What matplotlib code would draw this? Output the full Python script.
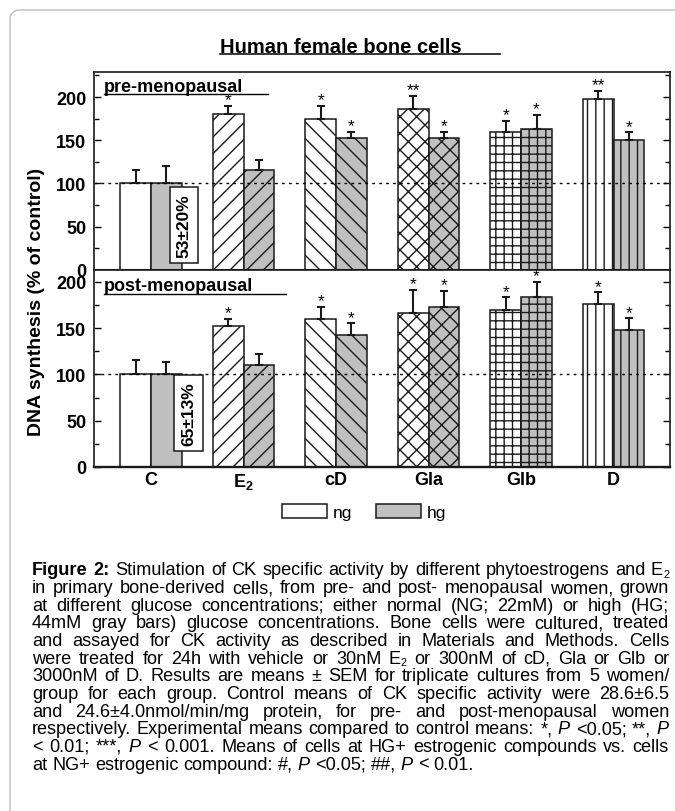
import re
import numpy as np
import matplotlib
matplotlib.use('Agg')
import matplotlib.pyplot as plt
from matplotlib.patches import Rectangle, Patch, PathPatch
from matplotlib.lines import Line2D
from matplotlib.path import Path

plt.rcParams['font.family'] = ['Liberation Sans', 'DejaVu Sans']
plt.rcParams['mathtext.fontset'] = 'custom'
plt.rcParams['mathtext.rm'] = 'Liberation Sans'
plt.rcParams['mathtext.bf'] = 'Liberation Sans:bold'
plt.rcParams['mathtext.it'] = 'Liberation Sans:italic'
plt.rcParams['hatch.linewidth'] = 1.0

# ---------------- data ----------------
categories = ['C', 'E2', 'cD', 'Gla', 'Glb', 'D']
tick_labels = ['C', r'$\mathbf{E}_{\mathbf{2}}$', 'cD', 'Gla', 'Glb', 'D']
hatches = ['', '//', '\\\\', 'xx', '++', '||']

pre_ng = [100, 180, 174.5, 186, 160, 198]
pre_ng_err = [15, 10, 15.5, 15, 12.5, 9]
pre_hg = [100, 115, 153, 153, 163, 150.5]
pre_hg_err = [20, 12, 6.5, 7, 16.5, 8.5]
pre_ng_sig = ['', '*', '*', '**', '*', '**']
pre_hg_sig = ['', '', '*', '*', '*', '*']

post_ng = [100, 152, 160, 166, 170, 176]
post_ng_err = [15, 8, 12.5, 25, 13, 12.5]
post_hg = [100, 110, 143, 173, 184, 148]
post_hg_err = [13, 12, 12, 17, 16, 12.5]
post_ng_sig = ['', '*', '*', '*', '*', '*']
post_hg_sig = ['', '', '*', '*', '*', '*']

note_pre = '53±20%'
note_post = '65±13%'
series_labels = ['ng', 'hg']
title = 'Human female bone cells'
ylabel = 'DNA synthesis (% of control)'

caption = [
    "{b:Figure} {b:2:} Stimulation of CK specific activity by different phytoestrogens and E{s:2}",
    "in primary bone-derived cells, from pre- and post- menopausal women, grown",
    "at different glucose concentrations; either normal (NG; 22mM) or high (HG;",
    "44mM gray bars) glucose concentrations. Bone cells were cultured, treated",
    "and assayed for CK activity as described in Materials and Methods. Cells",
    "were treated for 24h with vehicle or 30nM E{s:2} or 300nM of cD, Gla or Glb or",
    "3000nM of D. Results are means ± SEM for triplicate cultures from 5 women/",
    "group for each group. Control means of CK specific activity were 28.6±6.5",
    "and 24.6±4.0nmol/min/mg protein, for pre- and post-menopausal women",
    "respectively. Experimental means compared to control means: *, {i:P} <0.05; **, {i:P}",
    "< 0.01; ***, {i:P} < 0.001.  Means of cells at HG+ estrogenic compounds vs. cells",
    "at NG+ estrogenic compound: #, {i:P} <0.05; ##, {i:P} < 0.01.",
]

# ---------------- layout ----------------
W, H = 675, 812
fig = plt.figure(figsize=(W / 100, H / 100), dpi=100)


def fx(px):
    return px / W


def fy(py):
    return 1 - py / H


EDGE = '#1a1a1a'
GRAY = '#c0c0c0'

ax1 = fig.add_axes([fx(94), fy(270.7), (670 - 94) / W, (270.7 - 73) / H])
ax2 = fig.add_axes([fx(94), fy(468), (670 - 94) / W, (468 - 270.7) / H])


def panel(ax, ng, ng_err, hg, hg_err, ng_sig, hg_sig, ymax, label, ly, uly, ul_end,
          note, nbox):
    x = np.arange(1, len(categories) + 1)
    w = 0.332
    n = len(categories)
    b1 = ax.bar(x - w / 2, ng, w, color='white', edgecolor=EDGE, linewidth=1.1, zorder=2)
    b2 = ax.bar(x + w / 2, hg, w, color=GRAY, edgecolor=EDGE, linewidth=1.1, zorder=2)
    for b, h in zip(b1, hatches):
        b.set_hatch(h)
    for b, h in zip(b2, hatches):
        b.set_hatch(h)
    ax.errorbar(x - w / 2, ng, yerr=[np.zeros(n), ng_err], fmt='none', ecolor=EDGE,
                elinewidth=1.5, capsize=3, capthick=1.5, zorder=3)
    ax.errorbar(x + w / 2, hg, yerr=[np.zeros(n), hg_err], fmt='none', ecolor=EDGE,
                elinewidth=1.5, capsize=3, capthick=1.5, zorder=3)
    for xs, vals, errs, sigs in ((x - w / 2, ng, ng_err, ng_sig), (x + w / 2, hg, hg_err, hg_sig)):
        for xi, v, e, s in zip(xs, vals, errs, sigs):
            if s:
                ax.annotate(s, (xi, v + e), xytext=(0, 1.2), textcoords='offset points',
                            ha='center', va='baseline', fontsize=12.5)
    ax.axhline(100, color='black', lw=1.0, ls=(0, (2, 3)), zorder=4)
    ax.set_xlim(0.384, 6.608)
    ax.set_ylim(0, ymax)
    ax.set_yticks([0, 50, 100, 150, 200])
    ax.set_yticklabels(['0', '50', '100', '150', '200'], fontweight='bold', fontsize=13)
    ax.set_yticks(np.arange(25, ymax, 50), minor=True)
    ax.tick_params(axis='y', which='both', direction='in', left=True, right=True,
                   width=1.0, pad=5.5)
    ax.tick_params(axis='y', which='major', length=5)
    ax.tick_params(axis='y', which='minor', length=3.5)
    ax.tick_params(axis='x', length=0)
    for sp in ax.spines.values():
        sp.set_linewidth(1.2)
        sp.set_color(EDGE)
    ax.text(0.0174, ly, label, transform=ax.transAxes, fontsize=13, fontweight='bold',
            ha='left', va='center')
    ax.add_line(Line2D([0.0174, ul_end], [uly, uly], transform=ax.transAxes,
                       color='black', lw=1.0))
    x0, x1, y0, y1 = nbox
    ax.add_patch(Rectangle((x0, y0), x1 - x0, y1 - y0, facecolor='white',
                           edgecolor=EDGE, lw=1.1, zorder=5))
    ax.text((x0 + x1) / 2, (y0 + y1) / 2, note, rotation=90, ha='center', va='center',
            fontsize=12.5, fontweight='bold', zorder=6)


panel(ax1, pre_ng, pre_ng_err, pre_hg, pre_hg_err, pre_ng_sig, pre_hg_sig, 229,
      'pre-menopausal', 0.929, 0.889, 0.3016, note_pre, (1.205, 1.511, 7.8, 96))
panel(ax2, post_ng, post_ng_err, post_hg, post_hg_err, post_ng_sig, post_hg_sig, 213,
      'post-menopausal', 0.919, 0.879, 0.333, note_post, (1.252, 1.562, 17, 99.3))

ax1.set_xticks(np.arange(1, 7))
ax1.set_xticklabels([])
ax2.set_xticks(np.arange(1, 7))
ax2.set_xticklabels(tick_labels, fontweight='bold', fontsize=13)
ax2.tick_params(axis='x', pad=3)
ax2.spines['bottom'].set_linewidth(1.7)
ax1.spines['bottom'].set_linewidth(1.5)

# y label
fig.text(fx(37), fy(302), ylabel, rotation=90, ha='center', va='center',
         fontsize=14, fontweight='bold')

# title
fig.text(fx(220), fy(53), title, ha='left', va='baseline', fontsize=14.5, fontweight='bold')
fig.add_artist(Line2D([fx(220), fx(500)], [fy(55), fy(55)], transform=fig.transFigure,
                      color='black', lw=1.1))

# legend
handles = [Patch(facecolor='white', edgecolor=EDGE, lw=1.1),
           Patch(facecolor=GRAY, edgecolor=EDGE, lw=1.1)]
fig.legend(handles, series_labels, ncol=2, loc='center', bbox_to_anchor=(fx(364), fy(513)),
           frameon=False, handlelength=2.6, handleheight=0.85, handletextpad=0.3,
           columnspacing=1.4, fontsize=12.5, borderpad=0)

# frame (left and top edges with rounded corner; continues past right/bottom)
r = 9
k = 0.5523 * r
verts = [(fx(10), fy(H + 20)), (fx(10), fy(11 + r)),
         (fx(10), fy(11 + r - k)), (fx(10 + r - k), fy(11)), (fx(10 + r), fy(11)),
         (fx(W + 20), fy(11))]
codes = [Path.MOVETO, Path.LINETO, Path.CURVE4, Path.CURVE4, Path.CURVE4, Path.LINETO]
fig.add_artist(PathPatch(Path(verts, codes), transform=fig.transFigure, fill=False,
                         ec='#bdbdbd', lw=1.0))

# caption (justified)
fig.canvas.draw()
renderer = fig.canvas.get_renderer()
LEFT, RIGHT = 32, 669


def kw(st, size):
    if st == 'b':
        return dict(fontweight='bold', fontsize=size)
    if st == 'i':
        return dict(fontstyle='italic', fontsize=size)
    if st == 's':
        return dict(fontsize=size * 0.6)
    return dict(fontsize=size)


def measure(s, st, size):
    t = fig.text(0, 0, s, **kw(st, size))
    wd = t.get_window_extent(renderer).width
    t.remove()
    return wd


def parse(line, size):
    words = []
    for wtxt in line.split():
        segs = []
        for st, txt, plain in re.findall(r'\{(\w):([^}]*)\}|([^{]+)', wtxt):
            segs.append(('', plain) if plain else (st, txt))
        widths = [measure(t, st, size) for st, t in segs]
        words.append((segs, widths, sum(widths)))
    return words


# choose a size so that the widest justified line fills the column with normal spaces
S0 = 10.0
sp0 = measure('a a', '', S0) - measure('aa', '', S0)
maxw = 0
for line in caption[:-1]:
    ws = parse(line, S0)
    maxw = max(maxw, sum(w for _, _, w in ws) + sp0 * (len(ws) - 1))
CAP = S0 * (RIGHT - LEFT) / maxw * 0.995
space_w = measure('a a', '', CAP) - measure('aa', '', CAP)

for i, line in enumerate(caption):
    words = parse(line, CAP)
    total = sum(wd for _, _, wd in words)
    if i < len(caption) - 1 and len(words) > 1:
        gap = (RIGHT - LEFT - total) / (len(words) - 1)
    else:
        gap = space_w
    base = 575.5 + 17.64 * i
    xpos = LEFT
    for segs, widths, wd in words:
        xx = xpos
        for (st, t), sw in zip(segs, widths):
            yy = base + (2.5 if st == 's' else 0)
            fig.text(fx(xx), fy(yy), t, ha='left', va='baseline', **kw(st, CAP))
            xx += sw
        xpos += wd + gap

fig.savefig('out.png', dpi=100)
